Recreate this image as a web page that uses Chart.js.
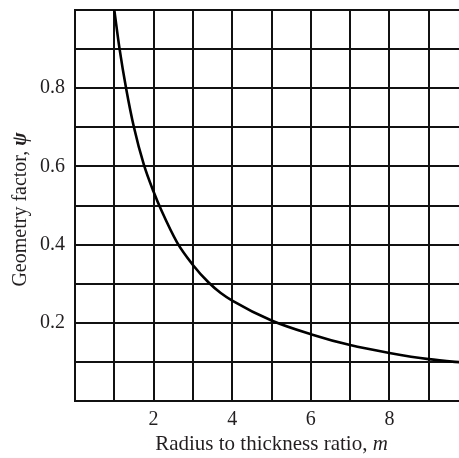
<!DOCTYPE html>
<html>
<head>
<meta charset="utf-8">
<script src="https://cdn.jsdelivr.net/npm/chart.js@4.4.0/dist/chart.umd.min.js"></script>
<style>
  html, body { margin: 0; padding: 0; background: #fff; overflow: hidden; }
  #wrap { width: 480px; height: 458px; }
</style>
</head>
<body>
<div id="wrap"><canvas id="chart" width="480" height="458"></canvas></div>
<script>
// Geometry factor vs radius-to-thickness ratio
const ratioM = [1, 1.135, 1.3, 1.5, 1.75, 2, 2.2, 2.6, 3, 3.4, 3.7, 4, 5, 6, 7, 8, 9, 10];
const psiValues = [1.0, 0.9, 0.8, 0.7, 0.605, 0.535, 0.487, 0.405, 0.348, 0.303, 0.277, 0.257, 0.206, 0.171, 0.143, 0.123, 0.107, 0.097];

const xTickLabels = [2, 4, 6, 8];
const yTickLabels = [0.2, 0.4, 0.6, 0.8];

const serif = '"Liberation Serif", "DejaVu Serif", serif';
const textColor = '#231f20';

const points = ratioM.map((m, i) => ({ x: m, y: psiValues[i] }));

// axis titles with an italic symbol at the end
function drawParts(ctx, parts) {
  const widths = parts.map(p => { ctx.font = p.font; return ctx.measureText(p.text).width; });
  const total = widths.reduce((a, b) => a + b, 0);
  let x = -total / 2;
  parts.forEach((p, i) => {
    ctx.font = p.font;
    ctx.fillText(p.text, x, 0);
    x += widths[i];
  });
}

const axisTitles = {
  id: 'axisTitles',
  afterDraw(chart) {
    const { ctx, chartArea } = chart;
    ctx.save();
    ctx.fillStyle = textColor;
    ctx.textBaseline = 'middle';
    ctx.textAlign = 'left';

    ctx.save();
    ctx.translate((chartArea.left + chartArea.right) / 2, chartArea.bottom + 43);
    drawParts(ctx, [
      { text: 'Radius to thickness ratio, ', font: '21px ' + serif },
      { text: 'm', font: 'italic 21px ' + serif }
    ]);
    ctx.restore();

    ctx.save();
    ctx.translate(21, (chartArea.top + chartArea.bottom) / 2 + 4);
    ctx.rotate(-Math.PI / 2);
    drawParts(ctx, [
      { text: 'Geometry factor, ', font: '20px ' + serif },
      { text: 'ψ', font: 'italic bold 20px ' + serif }
    ]);
    ctx.restore();

    ctx.restore();
  }
};

new Chart(document.getElementById('chart'), {
  type: 'line',
  data: {
    datasets: [{
      data: points,
      borderColor: '#000',
      borderWidth: 2.6,
      pointRadius: 0,
      fill: false,
      cubicInterpolationMode: 'monotone'
    }]
  },
  options: {
    responsive: false,
    animation: false,
    layout: { padding: { top: 10, right: 12, left: 0, bottom: 0 } },
    plugins: { legend: { display: false }, tooltip: { enabled: false } },
    scales: {
      x: {
        type: 'linear',
        min: 0,
        max: 10,
        afterBuildTicks: s => { s.ticks = [0,1,2,3,4,5,6,7,8,9,10].map(v => ({ value: v })); },
        afterFit: s => { s.height = 57; s.paddingLeft = 0; s.paddingRight = 0; },
        grid: { color: '#111', lineWidth: 2, drawTicks: false },
        border: { display: true, color: '#111', width: 2 },
        ticks: {
          padding: 7,
          color: textColor,
          font: { family: serif, size: 20 },
          callback: v => xTickLabels.includes(v) ? String(v) : ''
        }
      },
      y: {
        min: 0,
        max: 1,
        afterBuildTicks: s => { s.ticks = [0,0.1,0.2,0.3,0.4,0.5,0.6,0.7,0.8,0.9,1].map(v => ({ value: v })); },
        afterFit: s => { s.width = 75; s.paddingTop = 0; s.paddingBottom = 0; },
        grid: { color: '#111', lineWidth: 2, drawTicks: false },
        border: { display: true, color: '#111', width: 2 },
        ticks: {
          padding: 10,
          color: textColor,
          font: { family: serif, size: 20 },
          callback: v => yTickLabels.some(t => Math.abs(t - v) < 1e-6) ? v.toFixed(1) : ''
        }
      }
    }
  },
  plugins: [axisTitles]
});
</script>
</body>
</html>
